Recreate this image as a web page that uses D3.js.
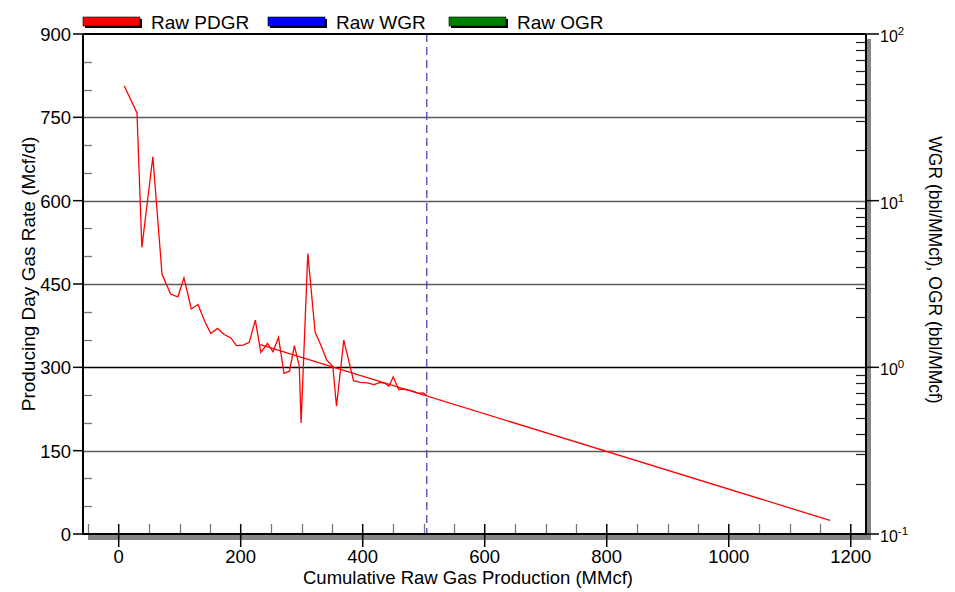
<!DOCTYPE html>
<html>
<head>
<meta charset="utf-8">
<script src="https://cdn.jsdelivr.net/npm/d3@7"></script>
<style>
  body { margin: 0; background: #fff; }
  text { font-family: "Liberation Sans", Arial, sans-serif; fill: #000; }
</style>
</head>
<body>
<div id="chart"></div>
<script>
// cumulative raw gas (MMcf) and producing-day gas rate (Mcf/d)
var cumGas = [9, 30, 38, 56, 71, 85, 97, 107, 119, 130, 141, 151, 162, 173, 184, 193, 204, 214, 224, 233,
  244, 253, 262, 271, 280, 288, 296, 299, 310, 322, 331, 341, 351, 357, 369, 385, 396, 407, 419, 428,
  437, 443, 450, 459, 467, 475, 483, 491, 499, 505];
var pdgr = [807, 758, 516, 679, 468, 432, 427, 461, 405, 413, 383, 361, 370, 359, 353, 339, 340, 345, 385, 327,
  343, 328, 354, 289, 293, 339, 302, 200, 505, 363, 341, 313, 302, 230, 349, 276, 273, 272, 269, 273,
  271, 266, 283, 260, 261, 259, 257, 253, 254, 250];
// decline forecast end points
var fcCum = [232, 1166];
var fcRate = [341, 24.5];
var cutoffCum = 505;

var legendNames = ["Raw PDGR", "Raw WGR", "Raw OGR"];
var legendColors = ["#ff0000", "#0000ff", "#008000"];
var yTicks = [0, 150, 300, 450, 600, 750, 900];
var xTicks = [0, 200, 400, 600, 800, 1000, 1200];
var rExps = [-1, 0, 1, 2];

var W = 955, H = 592;
var L = 83, T = 34, R = 866, B = 534;

var svg = d3.select("#chart").append("svg")
  .attr("width", W)
  .attr("height", H);

var x = d3.scaleLinear().domain([-58.5, 1225]).range([L, R]);
var y = d3.scaleLinear().domain([0, 900]).range([B, T]);
var yr = d3.scaleLog().domain([0.1, 100]).range([B, T]);

// drop shadow of the frame
svg.append("rect").attr("x", 88).attr("y", B).attr("width", R + 5 - 88).attr("height", 6).attr("fill", "#858585");
svg.append("rect").attr("x", R).attr("y", T + 5).attr("width", 5).attr("height", B - T + 1).attr("fill", "#858585");
svg.append("rect").attr("x", L + 1).attr("y", T + 1).attr("width", R - L - 2).attr("height", B - T - 1).attr("fill", "#fff");

// grid lines
svg.append("g").selectAll("line")
  .data(yTicks.filter(function (d) { return d > 0 && d < 900; }))
  .enter().append("line")
  .attr("x1", L).attr("x2", R)
  .attr("y1", function (d) { return Math.round(y(d)) + 0.5; })
  .attr("y2", function (d) { return Math.round(y(d)) + 0.5; })
  .attr("stroke", function (d) { return d == 300 ? "#000" : "#5a5a5a"; })
  .attr("stroke-width", 1.3);

// minor ticks, left and bottom
var yMinor = d3.range(50, 900, 50).filter(function (d) { return d % 150 != 0; });
svg.append("g").selectAll("line").data(yMinor).enter().append("line")
  .attr("x1", L).attr("x2", L + 9)
  .attr("y1", function (d) { return Math.round(y(d)) + 0.5; })
  .attr("y2", function (d) { return Math.round(y(d)) + 0.5; })
  .attr("stroke", "#777").attr("stroke-width", 1.3);

var xMinor = d3.range(-50, 1225, 50).filter(function (d) { return d % 200 != 0; });
svg.append("g").selectAll("line").data(xMinor).enter().append("line")
  .attr("y1", B - 10).attr("y2", B)
  .attr("x1", function (d) { return Math.round(x(d)) + 0.5; })
  .attr("x2", function (d) { return Math.round(x(d)) + 0.5; })
  .attr("stroke", "#777").attr("stroke-width", 1.3);

// right axis minor ticks (log)
var rMinor = [];
[0.1, 1, 10].forEach(function (dec) {
  for (var k = 2; k <= 9; k++) rMinor.push(dec * k);
});
svg.append("g").selectAll("line").data(rMinor).enter().append("line")
  .attr("x1", R - 10).attr("x2", R)
  .attr("y1", function (d) { return Math.round(yr(d)) + 0.5; })
  .attr("y2", function (d) { return Math.round(yr(d)) + 0.5; })
  .attr("stroke", "#222").attr("stroke-width", 1.2);

// cut-off line
svg.append("line")
  .attr("x1", x(cutoffCum)).attr("x2", x(cutoffCum))
  .attr("y1", T).attr("y2", B)
  .attr("stroke", "#4646b4").attr("stroke-width", 1.3)
  .attr("stroke-dasharray", "8,5");

// data
var line = d3.line()
  .x(function (d) { return x(d[0]); })
  .y(function (d) { return y(d[1]); });

svg.append("path")
  .datum(d3.zip(cumGas, pdgr))
  .attr("d", line)
  .attr("fill", "none").attr("stroke", "#ff0000").attr("stroke-width", 1.3);

svg.append("path")
  .datum(d3.zip(fcCum, fcRate))
  .attr("d", line)
  .attr("fill", "none").attr("stroke", "#ff0000").attr("stroke-width", 1.3);

// frame
var frame = svg.append("g").attr("stroke", "#000").attr("stroke-width", 2);
frame.append("line").attr("x1", L).attr("x2", L).attr("y1", T).attr("y2", B + 1);
frame.append("line").attr("x1", L).attr("x2", R).attr("y1", T).attr("y2", T);
frame.append("line").attr("x1", R).attr("x2", R).attr("y1", T).attr("y2", B + 1);
frame.append("line").attr("x1", L).attr("x2", R).attr("y1", B).attr("y2", B);

// left axis
var gl = svg.append("g");
gl.selectAll("line").data(yTicks).enter().append("line")
  .attr("x1", L - 10).attr("x2", L)
  .attr("y1", function (d) { return y(d); })
  .attr("y2", function (d) { return y(d); })
  .attr("stroke", "#000").attr("stroke-width", 1.5);
gl.selectAll("text").data(yTicks).enter().append("text")
  .attr("x", L - 12)
  .attr("y", function (d) { return y(d) + 7; })
  .attr("text-anchor", "end")
  .style("font-size", "18.5px")
  .text(function (d) { return d; });

// bottom axis
var gb = svg.append("g");
gb.selectAll("line").data(xTicks).enter().append("line")
  .attr("y1", B - 10).attr("y2", B + 13)
  .attr("x1", function (d) { return x(d); })
  .attr("x2", function (d) { return x(d); })
  .attr("stroke", "#000").attr("stroke-width", 1.5);
gb.selectAll("text").data(xTicks).enter().append("text")
  .attr("x", function (d) { return x(d); })
  .attr("y", B + 29)
  .attr("text-anchor", "middle")
  .style("font-size", "18.5px")
  .text(function (d) { return d; });

// right axis (log)
var gr = svg.append("g");
gr.selectAll("line").data(rExps).enter().append("line")
  .attr("x1", R).attr("x2", R + 13)
  .attr("y1", function (d) { return yr(Math.pow(10, d)); })
  .attr("y2", function (d) { return yr(Math.pow(10, d)); })
  .attr("stroke", "#000").attr("stroke-width", 1.5);
var rl = gr.selectAll("text").data(rExps).enter().append("text")
  .attr("x", R + 14)
  .attr("y", function (d) { return yr(Math.pow(10, d)) + 8; })
  .style("font-size", "16px");
rl.append("tspan").text("10");
rl.append("tspan").attr("dy", -7).style("font-size", "11.5px").text(function (d) { return d; });

// axis titles
svg.append("text")
  .attr("transform", "translate(28," + 274 + ") rotate(-90)")
  .attr("text-anchor", "middle").attr("dominant-baseline", "central")
  .style("font-size", "19px")
  .text("Producing Day Gas Rate (Mcf/d)");

svg.append("text")
  .attr("transform", "translate(935," + 270 + ") rotate(90)")
  .attr("text-anchor", "middle").attr("dominant-baseline", "central")
  .style("font-size", "17.5px")
  .text("WGR (bbl/MMcf), OGR (bbl/MMcf)");

svg.append("text")
  .attr("x", 468).attr("y", 584)
  .attr("text-anchor", "middle")
  .style("font-size", "18.5px")
  .text("Cumulative Raw Gas Production (MMcf)");

// legend
var legX = [83, 268, 449];
var lg = svg.append("g").selectAll("g").data(legendNames).enter().append("g")
  .attr("transform", function (d, i) { return "translate(" + legX[i] + ",17)"; });
lg.append("rect").attr("x", 2).attr("y", 2).attr("width", 57).attr("height", 9).attr("fill", "#000");
lg.append("rect").attr("x", 0).attr("y", 0).attr("width", 57).attr("height", 9)
  .attr("fill", function (d, i) { return legendColors[i]; })
  .attr("stroke", "#000").attr("stroke-width", 0.6);
lg.append("text").attr("x", 68).attr("y", 11.5)
  .style("font-size", "19px")
  .text(function (d) { return d; });
</script>
</body>
</html>
